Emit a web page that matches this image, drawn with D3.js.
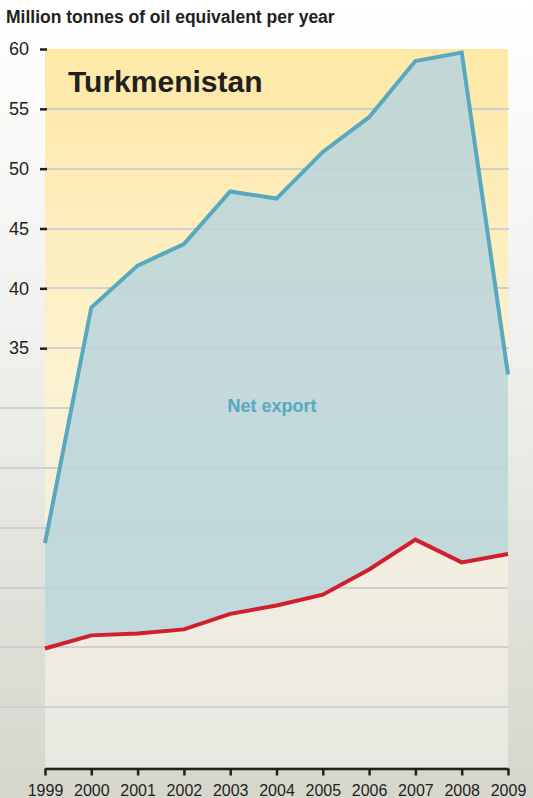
<!DOCTYPE html>
<html>
<head>
    <meta charset="utf-8">
    <title>Turkmenistan</title>
    <script src="https://d3js.org/d3.v7.min.js" charset="utf-8"></script>
    <style type="text/css">
        body {
            margin: 0;
            font-family: "Liberation Sans", Arial, sans-serif;
        }
        .grid line {
            stroke: #cfcfd2;
            stroke-width: 2px;
            shape-rendering: crispEdges;
        }
        .line {
            fill: none;
            stroke-width: 4px;
            stroke-linejoin: miter;
        }
    </style>
</head>
<body>
<script type="text/javascript">
    // values (million tonnes oil equivalent)
    var years = [1999, 2000, 2001, 2002, 2003, 2004, 2005, 2006, 2007, 2008, 2009];
    var production = [18.7, 38.4, 41.9, 43.7, 48.1, 47.5, 51.4, 54.3, 59.0, 59.7, 32.8];
    var consumption = [9.9, 11.0, 11.15, 11.5, 12.8, 13.5, 14.4, 16.5, 19.0, 17.1, 17.8];
    var labelledTicks = [35, 40, 45, 50, 55, 60];
    var plainTicks = [5, 10, 15, 20, 25, 30];

    var data = years.map(function (y, i) {
        return { year: y, prod: production[i], cons: consumption[i] };
    });

    var W = 533, H = 798;
    var plotLeft = 45, plotRight = 508, plotTop = 49, plotBottom = 767;

    var x = d3.scaleLinear().domain([1999, 2009]).range([plotLeft, plotRight]);
    var y = d3.scaleLinear().domain([0, 60]).range([plotBottom, plotTop]);

    var svg = d3.select("body").append("svg")
        .attr("width", W)
        .attr("height", H);

    var defs = svg.append("defs");

    var pageGrad = defs.append("linearGradient")
        .attr("id", "pageGrad")
        .attr("x1", "0%").attr("x2", "0%")
        .attr("y1", "0%").attr("y2", "100%");
    pageGrad.append("stop").attr("offset", "0%").attr("stop-color", "#ffffff");
    pageGrad.append("stop").attr("offset", "40%").attr("stop-color", "#f1f1ef");
    pageGrad.append("stop").attr("offset", "100%").attr("stop-color", "#d6d6cd");

    var plotGrad = defs.append("linearGradient")
        .attr("id", "plotGrad")
        .attr("x1", "0%").attr("x2", "0%")
        .attr("y1", "0%").attr("y2", "100%");
    plotGrad.append("stop").attr("offset", "0%").attr("stop-color", "#fde8a6");
    plotGrad.append("stop").attr("offset", "45%").attr("stop-color", "#fcf2cf");
    plotGrad.append("stop").attr("offset", "72%").attr("stop-color", "#f2eee0");
    plotGrad.append("stop").attr("offset", "100%").attr("stop-color", "#e8e8e2");

    svg.append("rect")
        .attr("width", W).attr("height", H)
        .attr("fill", "url(#pageGrad)");

    svg.append("rect")
        .attr("x", plotLeft).attr("y", plotTop)
        .attr("width", plotRight - plotLeft).attr("height", plotBottom - plotTop)
        .attr("fill", "url(#plotGrad)");

    // gridlines: upper ones start at the axis, lower ones run to the page edge
    var grid = svg.append("g").attr("class", "grid");
    grid.selectAll(".g1").data(labelledTicks.filter(function (d) { return d < 60; }))
        .enter().append("line")
        .attr("x1", plotLeft).attr("x2", plotRight + 1)
        .attr("y1", function (d) { return y(d); })
        .attr("y2", function (d) { return y(d); });
    grid.selectAll(".g2").data(plainTicks)
        .enter().append("line")
        .attr("x1", 0).attr("x2", plotRight)
        .attr("y1", function (d) { return y(d); })
        .attr("y2", function (d) { return y(d); });

    // net export area between the two lines
    var area = d3.area()
        .x(function (d) { return x(d.year); })
        .y0(function (d) { return y(d.cons); })
        .y1(function (d) { return y(d.prod); });

    svg.append("path")
        .datum(data)
        .attr("d", area)
        .attr("fill", "#b9d5dc")
        .attr("fill-opacity", 0.85);

    var prodLine = d3.line()
        .x(function (d) { return x(d.year); })
        .y(function (d) { return y(d.prod); });
    var consLine = d3.line()
        .x(function (d) { return x(d.year); })
        .y(function (d) { return y(d.cons); });

    svg.append("path")
        .datum(data)
        .attr("class", "line")
        .attr("stroke", "#58a8c0")
        .attr("d", prodLine);

    svg.append("path")
        .datum(data)
        .attr("class", "line")
        .attr("stroke", "#d1202d")
        .attr("d", consLine);

    // y axis: short dark ticks and labels for the upper values only
    var yAxis = d3.axisLeft(y)
        .tickValues(labelledTicks)
        .tickSize(7)
        .tickPadding(11);
    var ya = svg.append("g")
        .attr("transform", "translate(" + (plotLeft + 2) + ",0)")
        .call(yAxis);
    ya.select(".domain").remove();
    ya.selectAll(".tick line").attr("stroke", "#231f20").attr("stroke-width", 2.5);
    ya.selectAll(".tick text")
        .attr("fill", "#231f20")
        .style("font-size", "18px")
        .style("font-family", "'Liberation Sans', Arial, sans-serif");

    // x axis
    var xAxis = d3.axisBottom(x)
        .tickValues(years)
        .tickFormat(d3.format("d"))
        .tickSize(7)
        .tickSizeOuter(0)
        .tickPadding(9);
    var xa = svg.append("g")
        .attr("transform", "translate(0," + (plotBottom + 1.5) + ")")
        .call(xAxis);
    xa.select(".domain").attr("stroke", "#231f20").attr("stroke-width", 2.5);
    xa.selectAll(".tick line").attr("stroke", "#231f20").attr("stroke-width", 2.5);
    xa.selectAll(".tick text")
        .attr("fill", "#231f20")
        .style("font-size", "16px")
        .style("font-family", "'Liberation Sans', Arial, sans-serif");

    // texts
    svg.append("text")
        .attr("x", 6).attr("y", 23)
        .attr("fill", "#231f20")
        .style("font-size", "17.5px")
        .style("font-weight", "bold")
        .text("Million tonnes of oil equivalent per year");

    svg.append("text")
        .attr("x", 68).attr("y", 92)
        .attr("fill", "#231f20")
        .style("font-size", "30px")
        .style("font-weight", "bold")
        .text("Turkmenistan");

    svg.append("text")
        .attr("x", 272).attr("y", 412)
        .attr("text-anchor", "middle")
        .attr("fill", "#58a8c0")
        .style("font-size", "18px")
        .style("font-weight", "bold")
        .text("Net export");
</script>
</body>
</html>
